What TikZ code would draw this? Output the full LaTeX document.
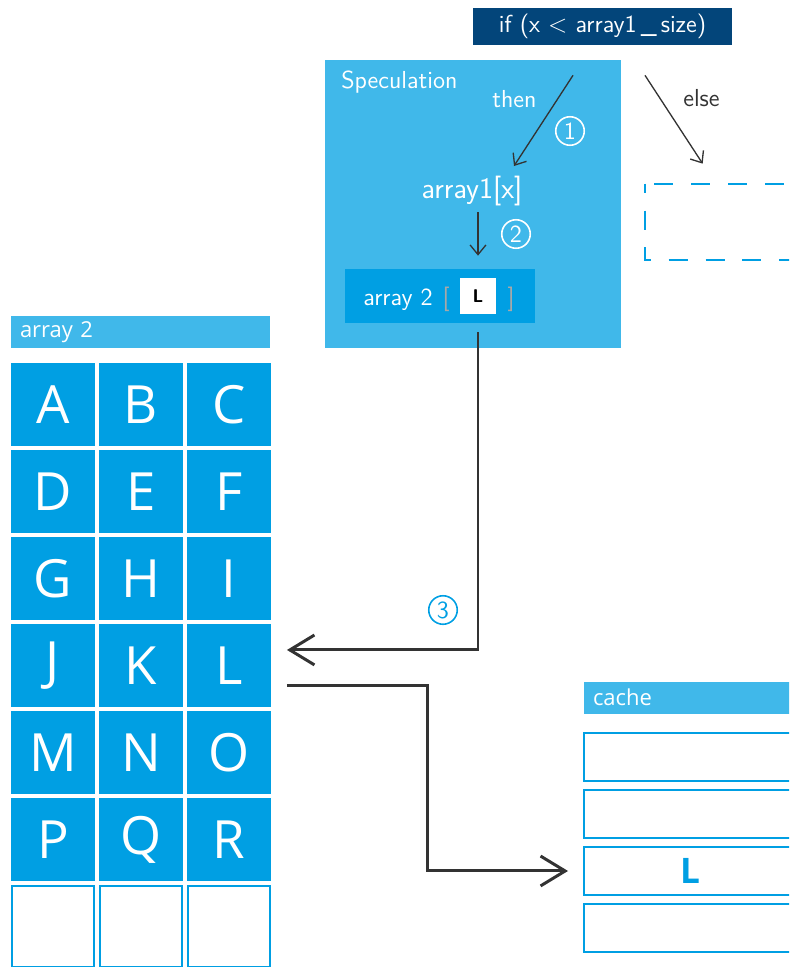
\documentclass[tikz,border=0pt]{standalone}
\usepackage{fontspec}
\usepackage{tikz}
\usetikzlibrary{arrows.meta,positioning,calc}
\newfontfamily\osans{Open Sans}
\definecolor{navy}{HTML}{03457A}
\definecolor{lblue}{HTML}{40B8EA}
\definecolor{cblue}{HTML}{009FE3}
\definecolor{dgray}{HTML}{333333}
\definecolor{brk}{HTML}{A8A8A8}
\tikzset{
  txt/.style={inner sep=0pt,font=\sffamily\fontsize{14}{16}\selectfont},
  wtxt/.style={txt,text=white},
  num/.style={circle,draw=white,text=white,line width=0.9pt,minimum size=0.57cm,inner sep=0pt,font=\sffamily\fontsize{14}{16}\selectfont},
  cell/.style={fill=cblue,text=white,minimum width=1.68cm,minimum height=1.66cm,inner sep=0pt,outer sep=0pt,font=\osans\fontsize{30}{32}\selectfont},
  ecell/.style={cell,fill=white,draw=cblue,line width=1pt,minimum width=1.645cm,minimum height=1.625cm},
  hd/.style={fill=lblue,text=white,inner xsep=0.18cm,inner ysep=0pt,minimum height=0.64cm,align=left,font=\osans\fontsize{12.5}{14}\selectfont},
  slot/.style={fill=white,draw=cblue,line width=1pt,minimum width=4.24cm,minimum height=0.965cm,inner sep=0pt,outer sep=0pt},
  dsh/.style={draw=cblue,line width=1pt,dash pattern=on 10.8pt off 10.2pt,dash phase=5.7pt},
  ar/.style={-{Straight Barb[length=5.5pt,width=9pt]},line width=0.75pt,draw=dgray},
  bar/.style={-{Straight Barb[length=14pt,width=17pt]},line width=1.7pt,draw=dgray},
}

\begin{document}
\begin{tikzpicture}[x=0.02cm,y=-0.02cm,node distance=0.08cm]
\clip (0,0) rectangle (789,967);

% branch condition and the speculated path
\node[fill=navy,text=white,minimum width=5.18cm,minimum height=0.74cm,inner sep=0pt,font=\sffamily\fontsize{14}{16}\selectfont] (cond) at (602.5,26.5) {if (x $<$ array1\,\_\,size)};
\node[fill=lblue,minimum width=5.92cm,minimum height=5.76cm,inner sep=0pt] (spec) at (473,204) {};
\node[wtxt,anchor=base west] (speclbl) at (341,88) {Speculation};
\node[wtxt,anchor=base west] (thenlbl) at (492,107) {then};
\node[txt,text=dgray,anchor=base west] (elselbl) at (683,106) {else};
\node[wtxt,anchor=base,font=\sffamily\fontsize{17}{19}\selectfont] (a1x) at (472,198) {array1[x]};
\node[num] (n1) at (570,131) {1};
\node[num] (n2) at (516,234) {2};
\node[fill=cblue,minimum width=3.8cm,minimum height=1.08cm,inner sep=0pt] (a2) at (440,296) {};
\node[wtxt,anchor=base west] (a2lbl) at (363,305) {array 2};
\node[txt,text=brk,anchor=base] (lbrk) at (446,305) {[};
\node[fill=white,minimum size=0.72cm,inner sep=0pt,font=\sffamily\bfseries\fontsize{10.5}{12}\selectfont] (idx) at (478,296) {L};
\node[txt,text=brk,anchor=base] (rbrk) at (511,305) {]};

% else branch
\node[minimum width=3.8cm,minimum height=1.52cm,inner sep=0pt] (alt) at (740,222) {};
\draw[dsh] (alt.north west) -- (alt.south west) -- (alt.south east) -- (alt.north east) -- cycle;

\draw[ar] ([xshift=-0.59cm,yshift=-0.6cm]cond.south) -- ([xshift=0.84cm,yshift=0.64cm]a1x.base);
\draw[ar] ([xshift=0.85cm,yshift=-0.6cm]cond.south) -- ([xshift=1.16cm,yshift=0.4cm]alt.north west);
\draw[ar] ([yshift=-0.28cm]a1x.base -| idx.north) -- ([yshift=0.44cm]idx.north);

% array 2
\node[hd,text width=4.82cm] (a2hd) at (140.5,332) {array 2};
\node[cell] (cA) at (53,404.5) {A};
\node[cell,right=of cA] (cB) {B};
\node[cell,right=of cB] (cC) {C};
\node[cell,below=of cA] (cD) {D};
\node[cell,right=of cD] (cE) {E};
\node[cell,right=of cE] (cF) {F};
\node[cell,below=of cD] (cG) {G};
\node[cell,right=of cG] (cH) {H};
\node[cell,right=of cH] (cI) {I};
\node[cell,below=of cG] (cJ) {J};
\node[cell,right=of cJ] (cK) {K};
\node[cell,right=of cK] (cL) {L};
\node[cell,below=of cJ] (cM) {M};
\node[cell,right=of cM] (cN) {N};
\node[cell,right=of cN] (cO) {O};
\node[cell,below=of cM] (cP) {P};
\node[cell,right=of cP] (cQ) {Q};
\node[cell,right=of cQ] (cR) {R};
\node[ecell,below=0.1cm of cP] (e1) {};
\node[ecell,right=0.115cm of e1] (e2) {};
\node[ecell,right=0.115cm of e2] (e3) {};

% cache
\node[hd,text width=3.88cm] (cachehd) at (690,697.5) {cache};
\node[slot] (s1) at (690,757) {};
\node[slot,below=0.175cm of s1] (s2) {};
\node[slot,below=0.175cm of s2,text=cblue,font=\osans\bfseries\fontsize{20}{22}\selectfont] (s3) {L};
\node[slot,below=0.175cm of s3] (s4) {};

% load and cache fill
\coordinate (inL) at ([xshift=0.32cm,yshift=0.31cm]cL.east);
\coordinate (outL) at ([xshift=0.32cm,yshift=-0.41cm]cL.east);
\coordinate (inC) at ([xshift=-0.32cm]s3.west);
\draw[bar] ([yshift=-0.36cm]idx.south) |- (inL);
\node[num,draw=cblue,text=cblue] (n3) at (443,610) {3};
\draw[bar] (outL) -| ($(outL)!.5!(inC)$) |- (inC);
\end{tikzpicture}
\end{document}
